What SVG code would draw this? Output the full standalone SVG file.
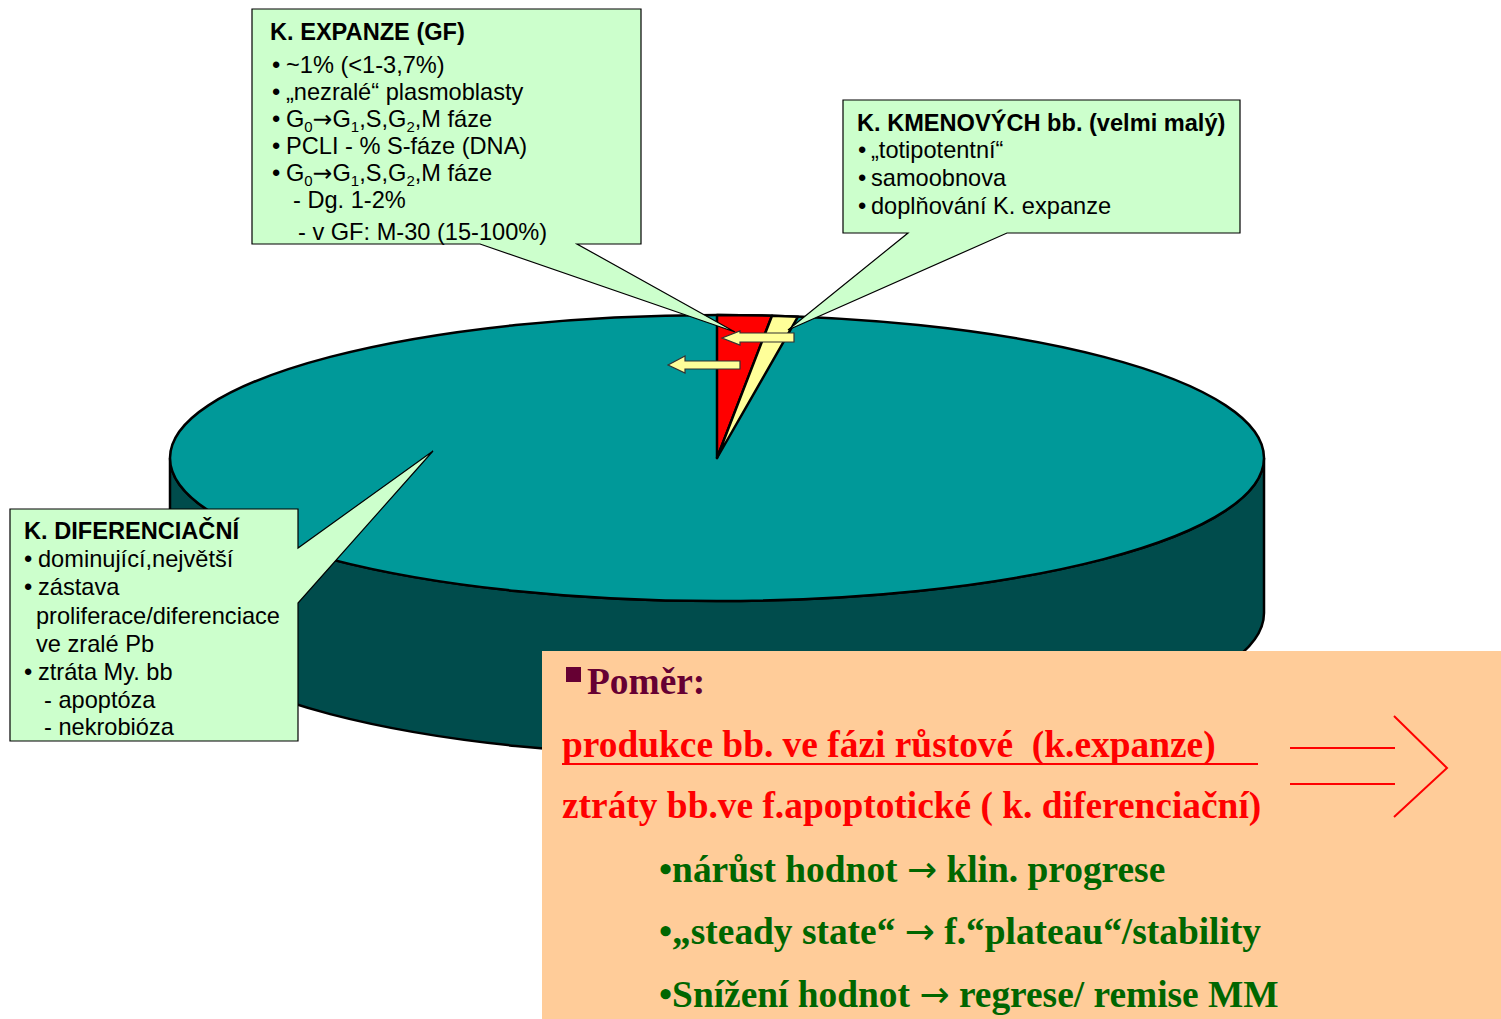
<svg xmlns="http://www.w3.org/2000/svg" width="1501" height="1019" viewBox="0 0 1501 1019">
<style>
.box{fill:#CCFFCC;stroke:#000;stroke-width:1.2}
.t{font-family:"Liberation Sans",Arial,sans-serif;font-size:23.6px;fill:#000}
.tb{font-family:"Liberation Sans",Arial,sans-serif;font-size:23.6px;font-weight:bold;fill:#000}
.sub{font-size:15px}
.ar{font-family:"DejaVu Sans",sans-serif;font-weight:normal}
.arr{fill:#FFFF99;stroke:#333;stroke-width:1.2}
.s{font-family:"Liberation Serif","Times New Roman",serif;font-size:37.4px;font-weight:bold}
.red{fill:#FF0000}
.grn{fill:#006600}
</style>
<rect width="1501" height="1019" fill="#fff"/>
<g id="pie">
<path d="M170,458 L170,613 A547,143 0 0 0 1264,613 L1264,458 A547,143 0 0 1 170,458 Z" fill="#004C4C" stroke="#000" stroke-width="2.5"/>
<ellipse cx="717" cy="458" rx="547" ry="143" fill="#009999" stroke="#000" stroke-width="2.5"/>
<path d="M717,458 L717,315 A547,143 0 0 1 772,315.7 Z" fill="#FF0000" stroke="#000" stroke-width="2.5" stroke-linejoin="round"/>
<path d="M717,458 L772,315.7 A547,143 0 0 1 798,316.7 Z" fill="#FFFF99" stroke="#000" stroke-width="2.5" stroke-linejoin="round"/>
</g>
<g id="expanze">
<path class="box" d="M252,9 H641 V244 H577 L735,332 L480,244 H252 Z"/>
<text class="tb" x="270" y="40">K. EXPANZE (GF)</text>
<text class="t" x="272" y="73">•</text><text class="t" x="286" y="73">~1% (&lt;1-3,7%)</text>
<text class="t" x="272" y="100">•</text><text class="t" x="286" y="100">„nezralé“ plasmoblasty</text>
<text class="t" x="272" y="127">•</text><text class="t" x="286" y="127">G<tspan class="sub" dy="5">0</tspan><tspan class="ar" dy="-5">→</tspan>G<tspan class="sub" dy="5">1</tspan><tspan dy="-5">,S,G</tspan><tspan class="sub" dy="5">2</tspan><tspan dy="-5">,M fáze</tspan></text>
<text class="t" x="272" y="154">•</text><text class="t" x="286" y="154">PCLI - % S-fáze (DNA)</text>
<text class="t" x="272" y="181">•</text><text class="t" x="286" y="181">G<tspan class="sub" dy="5">0</tspan><tspan class="ar" dy="-5">→</tspan>G<tspan class="sub" dy="5">1</tspan><tspan dy="-5">,S,G</tspan><tspan class="sub" dy="5">2</tspan><tspan dy="-5">,M fáze</tspan></text>
<text class="t" x="293" y="208">- Dg. 1-2%</text>
<text class="t" x="298" y="240">- v GF: M-30 (15-100%)</text>
</g>
<g id="kmenovych">
<path class="box" d="M843,100 H1240 V233 H1007 L788,330 L908,233 H843 Z"/>
<text class="tb" x="857" y="131">K. KMENOVÝCH bb. (velmi malý)</text>
<text class="t" x="858" y="158">•</text><text class="t" x="871" y="158">„totipotentní“</text>
<text class="t" x="858" y="186">•</text><text class="t" x="871" y="186">samoobnova</text>
<text class="t" x="858" y="214">•</text><text class="t" x="871" y="214">doplňování K. expanze</text>
</g>
<g id="connectors">
<polygon class="arr" points="722,338 740,331 740,333 794,333 794,342 740,342 740,345"/>
<polygon class="arr" points="668,365 685,356 685,361 740,361 740,369 685,369 685,373"/>
</g>
<g id="diferenciacni">
<path class="box" d="M10,509 H298 V548 L433,451 L298,603 V741 H10 Z"/>
<text class="tb" x="24" y="539">K. DIFERENCIAČNÍ</text>
<text class="t" x="24" y="567">•</text><text class="t" x="38" y="567">dominující,největší</text>
<text class="t" x="24" y="595">•</text><text class="t" x="38" y="595">zástava</text>
<text class="t" x="36" y="624">proliferace/diferenciace</text>
<text class="t" x="36" y="652">ve zralé Pb</text>
<text class="t" x="24" y="680">•</text><text class="t" x="38" y="680">ztráta My. bb</text>
<text class="t" x="44" y="708">- apoptóza</text>
<text class="t" x="44" y="735">- nekrobióza</text>
</g>
<g id="pomer">
<rect x="542" y="651" width="959" height="368" fill="#FFCC99"/>
<rect x="566" y="667" width="15" height="15" fill="#660033"/>
<text class="s" x="587" y="694" fill="#660033">Poměr:</text>
<text class="s red" x="562" y="757" style="white-space:pre">produkce bb. ve fázi růstové  (k.expanze)</text>
<line x1="562" y1="764" x2="1258" y2="764" stroke="#FF0000" stroke-width="2"/>
<text class="s red" x="562" y="818">ztráty bb.ve f.apoptotické ( k. diferenciační)</text>
<text class="s grn" x="659" y="882">•nárůst hodnot <tspan class="ar" font-size="36">→</tspan> klin. progrese</text>
<text class="s grn" x="659" y="944">•„steady state“ <tspan class="ar" font-size="36">→</tspan> f.“plateau“/stability</text>
<text class="s grn" x="659" y="1007">•Snížení hodnot <tspan class="ar" font-size="36">→</tspan> regrese/ remise MM</text>
<g stroke="#FF0000" stroke-width="2" fill="none">
<line x1="1290" y1="748" x2="1395" y2="748"/>
<line x1="1290" y1="784" x2="1395" y2="784"/>
<polyline points="1394,716 1447,768 1394,817"/>
</g>
</g>
</svg>
